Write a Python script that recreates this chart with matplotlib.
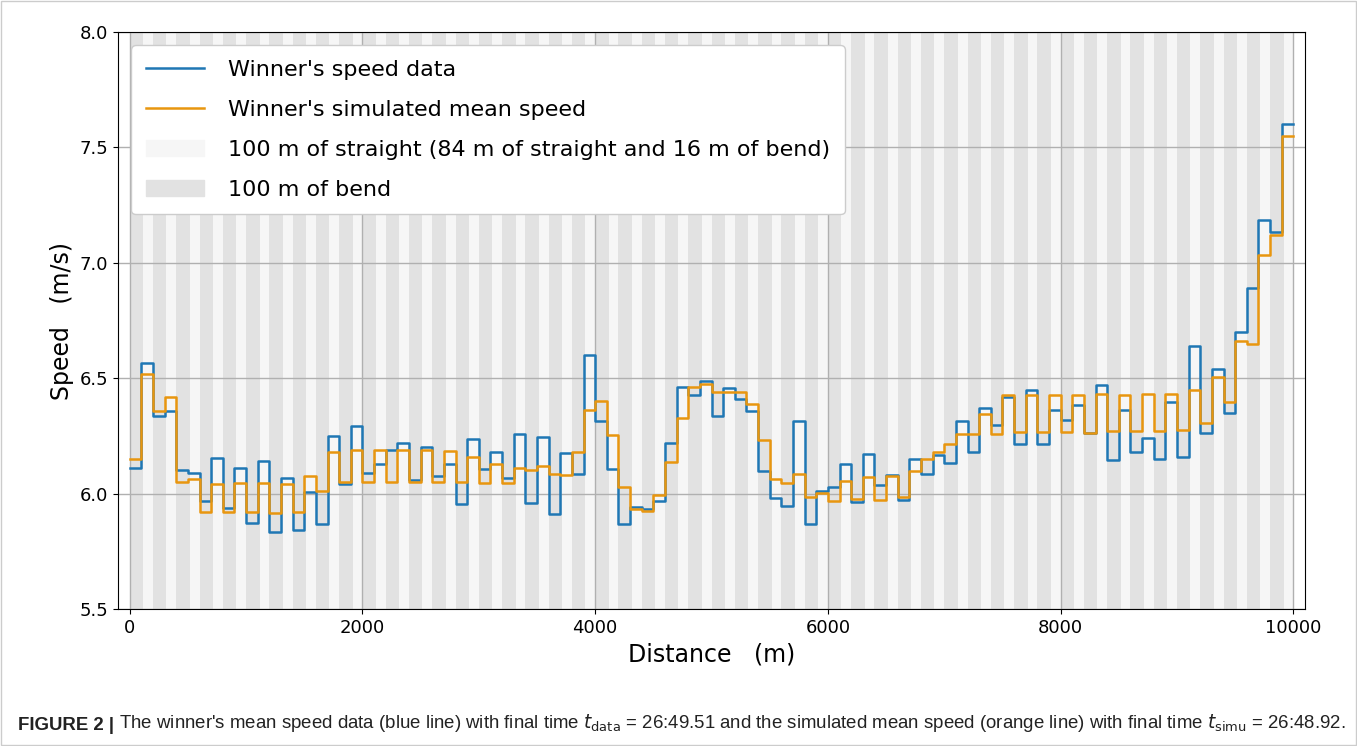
import matplotlib.pyplot as plt
import matplotlib.patches as mpatches
import numpy as np

# mean speed per 100 m segment (m/s)
speed_data = [6.11, 6.566, 6.335, 6.357, 6.104, 6.09, 5.967, 6.154, 5.938, 6.11,
              5.873, 6.14, 5.834, 6.069, 5.841, 6.007, 5.867, 6.25, 6.043, 6.293,
              6.09, 6.13, 6.19, 6.219, 6.058, 6.202, 6.075, 6.13, 5.954, 6.238,
              6.108, 6.18, 6.069, 6.26, 5.961, 6.245, 5.913, 6.176, 6.087, 6.6,
              6.315, 6.108, 5.867, 5.942, 5.935, 5.968, 6.219, 6.462, 6.426, 6.488,
              6.335, 6.459, 6.412, 6.358, 6.097, 5.983, 5.946, 6.315, 5.867, 6.011,
              6.029, 6.127, 5.965, 6.17, 6.036, 6.079, 5.971, 6.152, 6.084, 6.166,
              6.134, 6.313, 6.18, 6.371, 6.296, 6.419, 6.217, 6.45, 6.217, 6.361,
              6.318, 6.383, 6.263, 6.469, 6.147, 6.361, 6.18, 6.243, 6.152, 6.397,
              6.16, 6.639, 6.262, 6.54, 6.348, 6.702, 6.89, 7.186, 7.133, 7.6]

speed_simu = [6.152, 6.52, 6.36, 6.42, 6.05, 6.065, 5.92, 6.043, 5.92, 6.045,
              5.92, 6.045, 5.917, 6.043, 5.92, 6.075, 6.011, 6.18, 6.05, 6.188,
              6.05, 6.188, 6.05, 6.188, 6.05, 6.188, 6.052, 6.185, 6.05, 6.159,
              6.048, 6.127, 6.048, 6.113, 6.104, 6.118, 6.087, 6.082, 6.18, 6.361,
              6.401, 6.253, 6.029, 5.935, 5.925, 5.993, 6.137, 6.328, 6.462, 6.474,
              6.44, 6.44, 6.44, 6.39, 6.234, 6.065, 6.048, 6.087, 5.985, 6.003,
              5.968, 6.053, 5.975, 6.071, 5.974, 6.075, 5.985, 6.098, 6.149, 6.18,
              6.214, 6.26, 6.257, 6.347, 6.26, 6.426, 6.267, 6.426, 6.267, 6.426,
              6.267, 6.426, 6.263, 6.43, 6.27, 6.426, 6.27, 6.43, 6.27, 6.432,
              6.276, 6.45, 6.306, 6.504, 6.396, 6.663, 6.649, 7.036, 7.119, 7.55]

race_length = 10000
lap = 400
bend = 115.61  # bend length per half lap

blue = '#1f77b4'
orange = '#e8960f'
c_straight = '#f6f6f6'
c_bend = '#e2e2e2'

plt.rcParams['font.family'] = 'DejaVu Sans'

fig = plt.figure(figsize=(13.57, 7.46), dpi=100)
ax = fig.add_axes([0.087, 0.1836, 0.8747, 0.7734])

# track stripes
for start in np.arange(0, race_length, lap / 2):
    ax.axvspan(start, start + bend, color=c_bend, lw=0, zorder=0.8)
    ax.axvspan(start + bend, start + lap / 2, color=c_straight, lw=0, zorder=0.8)

x = np.arange(0, race_length + 100, 100)
ax.plot(x, speed_data + [speed_data[-1]], drawstyle='steps-post', color=blue,
        lw=1.8, label="Winner's speed data", zorder=3)
ax.plot(x, speed_simu + [speed_simu[-1]], drawstyle='steps-post', color=orange,
        lw=1.8, label="Winner's simulated mean speed", zorder=3)

ax.set_xlim(-100, 10100)
ax.set_ylim(5.5, 8.0)
ax.set_xticks(np.arange(0, 10001, 2000))
ax.set_yticks(np.arange(5.5, 8.01, 0.5))
ax.tick_params(labelsize=13)
ax.grid(True, color='#b0b0b0', lw=1.0)
ax.set_xlabel('Distance   (m)', fontsize=17)
ax.set_ylabel('Speed   (m/s)', fontsize=17)

handles, labels = ax.get_legend_handles_labels()
handles += [mpatches.Patch(color=c_straight), mpatches.Patch(color=c_bend)]
labels += ['100 m of straight (84 m of straight and 16 m of bend)', '100 m of bend']
ax.legend(handles, labels, loc='upper left', fontsize=16, framealpha=1,
          handlelength=2.6, handletextpad=1.1, labelspacing=0.9,
          borderpad=0.65, borderaxespad=0.6)

# caption
cap_style = dict(fontsize=13.4, family='Liberation Sans', color='#222222')
t1 = fig.text(0.013, 0.022, 'FIGURE 2 |', fontweight='bold', **cap_style)
ax.annotate(" The winner's mean speed data (blue line) with final time $t_{\\rm data}$ = 26:49.51 "
            "and the simulated mean speed (orange line) with final time $t_{\\rm simu}$ = 26:48.92.",
            xy=(1, 0), xycoords=t1, va='bottom', ha='left', annotation_clip=False,
            **cap_style)

fig.patches.append(mpatches.Rectangle((0.001, 0.001), 0.998, 0.998, transform=fig.transFigure,
                                      fill=False, edgecolor='#cccccc', lw=1))

fig.savefig('out.png', dpi=100)
